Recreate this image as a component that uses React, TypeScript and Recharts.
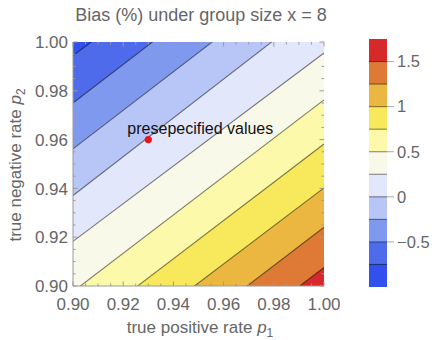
import React from "react";
import {
  ComposedChart,
  Area,
  Scatter,
  XAxis,
  YAxis,
  CartesianGrid,
} from "recharts";

// frame ticks every 0.005, labels every 0.02
const X_TICKS = [
  0.9, 0.905, 0.91, 0.915, 0.92, 0.925, 0.93, 0.935, 0.94, 0.945, 0.95,
  0.955, 0.96, 0.965, 0.97, 0.975, 0.98, 0.985, 0.99, 0.995, 1.0,
];
const X_LABELS = [0.9, 0.92, 0.94, 0.96, 0.98, 1.0];
const Y_TICKS = X_TICKS;
const Y_LABELS = X_LABELS;

// contour lines of the bias, read where they leave the frame (extended to x = 0.90 and 1.00)
const CONTOUR_LEVELS = [-0.75, -0.5, -0.25, 0, 0.25, 0.5, 0.75, 1, 1.25, 1.5];
const CONTOUR_X = [0.9, 1.0];
const CONTOUR_Y_LEFT = [0.9944, 0.975, 0.9562, 0.9371, 0.9183, 0.8977, 0.8798, 0.8623, 0.8454, 0.8291];
const CONTOUR_Y_RIGHT = [1.0714, 1.054, 1.0352, 1.0166, 0.9955, 0.9763, 0.9582, 0.9402, 0.9241, 0.9076];

// legend bar
const BAR_LEVELS = [-1, -0.75, -0.5, -0.25, 0, 0.25, 0.5, 0.75, 1, 1.25, 1.5, 1.75];
const BAND_COLORS = [
  "#3150ee", "#4d6bea", "#7f99ef", "#b7c6f6", "#e2e7fb", "#f9f9ea",
  "#fdf9aa", "#f7e95b", "#ebb741", "#de7a36", "#d6292c",
];
const BAR_TICKS = [-0.5, 0, 0.5, 1, 1.5];
const BAR_TICK_LABELS = ["\u22120.5", "0", "0.5", "1", "1.5"];

const POINT = [{ x: 0.93, y: 0.96 }];
const POINT_LABEL = "presepecified values";

const TITLE = "Bias (%) under group size x = 8";

const FONT = "'Liberation Sans', Arial, sans-serif";
const GRAY = "#666";
const FRAME = "#9a9a9a";
const LINE = "rgba(0,0,0,0.5)";

const PLOT_TOP = 42;
const PLOT_LEFT = 73;
const CHART_W = 340;
const RIGHT_M = 16;
const PLOT_RIGHT = CHART_W - RIGHT_M;

const rows = CONTOUR_X.map((x, r) => {
  const row: Record<string, number> = { x };
  CONTOUR_LEVELS.forEach((_, i) => {
    row[`c${i}`] = r === 0 ? CONTOUR_Y_LEFT[i] : CONTOUR_Y_RIGHT[i];
  });
  return row;
});

// colour bar: each band painted from its upper level down, top band first
const barRows = [0, 1].map((x) => {
  const row: Record<string, number> = { x };
  BAR_LEVELS.slice(1).forEach((lvl, i) => {
    row[`t${i}`] = lvl;
  });
  return row;
});

const isLabel = (list: number[], v: number) => list.some((m) => Math.abs(m - v) < 1e-9);

const BottomTick = (props: any) => {
  const { x, y, payload } = props;
  const v = payload.value;
  const major = isLabel(X_LABELS, v);
  const len = major ? 4.5 : 2.5;
  return (
    <g>
      <line x1={x} y1={y} x2={x} y2={y - len} stroke={FRAME} />
      <line x1={x} y1={PLOT_TOP} x2={x} y2={PLOT_TOP + len} stroke={FRAME} />
      {major && (
        <text x={x} y={y + 24} textAnchor="middle" fill={GRAY} fontSize={17} fontFamily={FONT}>
          {v.toFixed(2)}
        </text>
      )}
    </g>
  );
};

const LeftTick = (props: any) => {
  const { x, y, payload } = props;
  const v = payload.value;
  const major = isLabel(Y_LABELS, v);
  const len = major ? 4.5 : 2.5;
  return (
    <g>
      <line x1={x} y1={y} x2={x + len} y2={y} stroke={FRAME} />
      <line x1={PLOT_RIGHT} y1={y} x2={PLOT_RIGHT - len} y2={y} stroke={FRAME} />
      {major && (
        <text x={x - 5} y={y} dy="0.36em" textAnchor="end" fill={GRAY} fontSize={17} fontFamily={FONT}>
          {v.toFixed(2)}
        </text>
      )}
    </g>
  );
};

const Dot = (props: any) => {
  const { cx, cy } = props;
  return (
    <g>
      <circle cx={cx} cy={cy} r={3.6} fill="#e8141b" />
      <text x={cx + 52} y={cy - 6} textAnchor="middle" fill="#111" fontSize={16} fontFamily={FONT}>
        {POINT_LABEL}
      </text>
    </g>
  );
};

export default function App() {
  const bands = BAR_LEVELS.slice(1).map((lvl, i) => ({ lvl, i })).reverse();
  return (
    <div style={{ position: "fixed", left: 0, top: 0, width: 432, height: 340, background: "#fff" }}>
      <div style={{ position: "absolute", left: 0, top: 0 }}>
        <ComposedChart
          width={CHART_W}
          height={340}
          data={rows}
          margin={{ top: PLOT_TOP, right: RIGHT_M, bottom: 0, left: 0 }}
        >
          <CartesianGrid fill={BAND_COLORS[0]} stroke="none" horizontal={false} vertical={false} />
          <XAxis
            dataKey="x"
            type="number"
            domain={[0.9, 1]}
            allowDataOverflow
            ticks={X_TICKS}
            interval={0}
            height={54}
            tickSize={0}
            tickMargin={0}
            tickLine={false}
            axisLine={{ stroke: FRAME }}
            tick={<BottomTick />}
          />
          <YAxis
            type="number"
            domain={[0.9, 1]}
            allowDataOverflow
            ticks={Y_TICKS}
            interval={0}
            width={PLOT_LEFT}
            tickSize={0}
            tickMargin={0}
            tickLine={false}
            axisLine={{ stroke: FRAME }}
            tick={<LeftTick />}
          />
          <XAxis xAxisId="top" orientation="top" type="number" domain={[0.9, 1]} height={0} tick={false} tickLine={false} axisLine={{ stroke: FRAME }} />
          <YAxis yAxisId="right" orientation="right" type="number" domain={[0.9, 1]} width={0} tick={false} tickLine={false} axisLine={{ stroke: FRAME }} />
          {CONTOUR_LEVELS.map((lvl, i) => (
            <Area
              key={lvl}
              type="linear"
              dataKey={`c${i}`}
              fill={BAND_COLORS[i + 1]}
              fillOpacity={1}
              stroke={LINE}
              strokeWidth={1.1}
              dot={false}
              activeDot={false}
              isAnimationActive={false}
            />
          ))}
          <Scatter data={POINT} dataKey="y" shape={<Dot />} isAnimationActive={false} />
        </ComposedChart>
      </div>

      <div style={{ position: "absolute", left: 360, top: 0 }}>
        <ComposedChart width={72} height={340} data={barRows} margin={{ top: 39, right: 0, bottom: 53, left: 9 }}>
          <XAxis dataKey="x" type="number" domain={[0, 1]} hide />
          <YAxis
            orientation="right"
            type="number"
            domain={[-1, 1.75]}
            allowDataOverflow
            ticks={BAR_TICKS}
            interval={0}
            width={45}
            tickSize={7}
            tickMargin={3}
            axisLine={false}
            tickLine={{ stroke: "#aaa" }}
            tickFormatter={(v: number) => BAR_TICK_LABELS[BAR_TICKS.indexOf(v)]}
            tick={{ fill: GRAY, fontSize: 16.5, fontFamily: FONT }}
          />
          {bands.map(({ lvl, i }) => (
            <Area
              key={lvl}
              type="linear"
              dataKey={`t${i}`}
              baseValue="dataMin"
              fill={BAND_COLORS[i]}
              fillOpacity={1}
              stroke={i === BAND_COLORS.length - 1 ? "none" : "rgba(0,0,0,0.45)"}
              strokeWidth={1.1}
              dot={false}
              activeDot={false}
              isAnimationActive={false}
            />
          ))}
        </ComposedChart>
      </div>

      <svg width={432} height={340} style={{ position: "absolute", left: 0, top: 0, pointerEvents: "none" }}>
        <text x={201} y={21} textAnchor="middle" fill={GRAY} fontSize={18} fontFamily={FONT}>
          {TITLE}
        </text>
        <text x={200} y={333} textAnchor="middle" fill={GRAY} fontSize={17} fontFamily={FONT}>
          true positive rate <tspan fontStyle="italic">p</tspan>
          <tspan fontSize={12} dy={4}>1</tspan>
        </text>
        <text
          transform="translate(21,165) rotate(-90)"
          textAnchor="middle"
          fill={GRAY}
          fontSize={17}
          fontFamily={FONT}
        >
          true negative rate <tspan fontStyle="italic">p</tspan>
          <tspan fontSize={12} dy={4}>2</tspan>
        </text>
      </svg>
    </div>
  );
}
